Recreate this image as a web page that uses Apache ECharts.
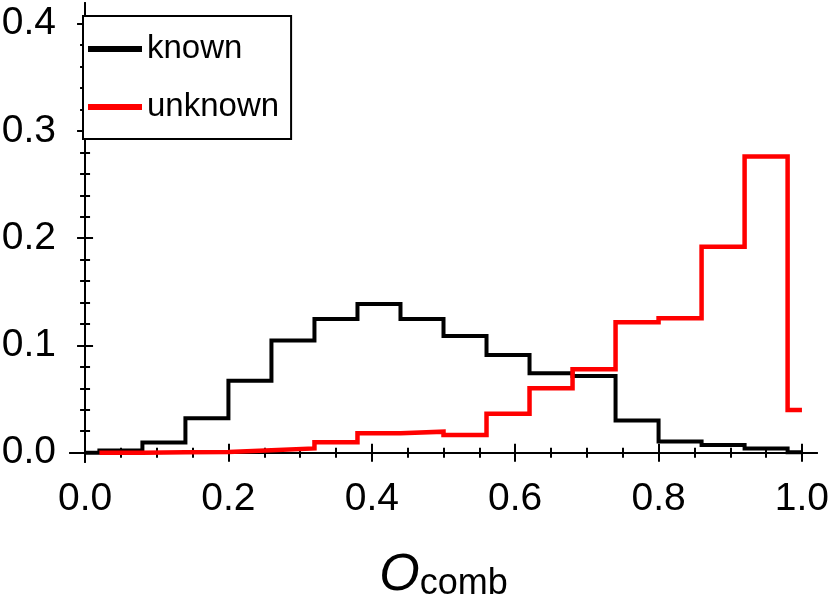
<!DOCTYPE html>
<html>
<head>
<meta charset="utf-8">
<script src="https://cdn.jsdelivr.net/npm/echarts@6/dist/echarts.min.js"></script>
<style>
html,body{margin:0;padding:0;background:#fff;}
#chart{width:830px;height:602px;}
</style>
</head>
<body>
<div id="chart"></div>
<script>
// ---- data ----
const binEdges = [0.00, 0.02, 0.08, 0.14, 0.20, 0.26, 0.32, 0.38, 0.44, 0.50, 0.56, 0.62, 0.68, 0.74, 0.80, 0.86, 0.92, 0.98, 1.00];
const knownValues = [0.000, 0.002, 0.0095, 0.032, 0.067, 0.1045, 0.1247, 0.1387, 0.1247, 0.1089, 0.0911, 0.074, 0.0715, 0.030, 0.0103, 0.0072, 0.004, 0.0004];
const unknownValues = [null, 0.000, 0.0003, 0.0006, 0.0022, 0.004, 0.0097, 0.018, 0.0196, 0.0165, 0.0362, 0.060, 0.0778, 0.1216, 0.1254, 0.192, 0.2762, 0.0398];
const seriesNames = ['known', 'unknown'];
const xMajorTicks = [0, 0.2, 0.4, 0.6, 0.8, 1.0];
const xMinorTicks = [0.05, 0.1, 0.15, 0.25, 0.3, 0.35, 0.45, 0.5, 0.55, 0.65, 0.7, 0.75, 0.85, 0.9, 0.95];
const yMajorTicks = [0, 0.1, 0.2, 0.3, 0.4];
const yMinorTicks = [0.02, 0.04, 0.06, 0.08, 0.12, 0.14, 0.16, 0.18, 0.22, 0.24, 0.26, 0.28, 0.32, 0.34, 0.36, 0.38];
const xLabel = 'O';
const xLabelSub = 'comb';

// build step outlines: each bin drawn from its left edge, final point at last right edge
function stepData(values) {
  const pts = [];
  let last = null;
  for (let i = 0; i < values.length; i++) {
    if (values[i] === null) continue;
    pts.push([binEdges[i], values[i]]);
    last = values[i];
  }
  pts.push([binEdges[binEdges.length - 1], last]);
  return pts;
}

const FONT = 'Liberation Sans';
const X_MIN = -0.021, X_MAX = 1.021, Y_MIN = -0.0087, Y_MAX = 0.4193;
const axisLineStyle = { show: true, lineStyle: { color: '#000', width: 2 } };

function xAxisDef(pos, ticks, len, withLabels, showLine, extra) {
  return Object.assign({
    type: 'value', position: pos, min: X_MIN, max: X_MAX,
    axisLine: showLine ? axisLineStyle : { show: false },
    axisTick: { show: true, inside: true, length: len, customValues: ticks, lineStyle: { color: '#000', width: 2 } },
    axisLabel: withLabels ? { show: true, customValues: ticks, fontSize: 39, fontFamily: FONT, color: '#000', margin: 18, formatter: v => v.toFixed(1) } : { show: false },
    splitLine: { show: false }, minorTick: { show: false }
  }, extra || {});
}
function yAxisDef(pos, ticks, len, withLabels, showLine) {
  return {
    type: 'value', position: pos, min: Y_MIN, max: Y_MAX,
    axisLine: showLine ? axisLineStyle : { show: false },
    axisTick: { show: true, inside: true, length: len, customValues: ticks, lineStyle: { color: '#000', width: 2 } },
    axisLabel: withLabels ? { show: true, customValues: ticks, fontSize: 39, fontFamily: FONT, color: '#000', margin: 14, formatter: v => v.toFixed(1) } : { show: false },
    splitLine: { show: false }, minorTick: { show: false }
  };
}

const chart = echarts.init(document.getElementById('chart'), null, { renderer: 'canvas' });
chart.setOption({
  animation: false,
  backgroundColor: '#fff',
  grid: { left: 70, right: 13, top: 3, bottom: 140, containLabel: false, outerBoundsMode: 'none' },
  xAxis: [
    xAxisDef('bottom', xMajorTicks, 9, true, true, {
      name: '{o|' + xLabel + '}{s|' + xLabelSub + '}',
      nameLocation: 'middle', nameGap: 88,
      nameTextStyle: {
        color: '#000',
        rich: {
          o: { fontSize: 52, fontStyle: 'italic', fontFamily: FONT, color: '#000', lineHeight: 52, verticalAlign: 'bottom' },
          s: { fontSize: 36, fontFamily: FONT, color: '#000', lineHeight: 36, verticalAlign: 'bottom' }
        }
      }
    }),
    xAxisDef('bottom', xMinorTicks, 5, false, false),
    xAxisDef('top', xMajorTicks, 9, false, true),
    xAxisDef('top', xMinorTicks, 5, false, false)
  ],
  yAxis: [
    yAxisDef('left', yMajorTicks, 8, true, true),
    yAxisDef('left', yMinorTicks, 5, false, false),
    yAxisDef('right', yMajorTicks, 8, false, true),
    yAxisDef('right', yMinorTicks, 5, false, false)
  ],
  legend: {
    orient: 'vertical', left: 83, top: 16,
    data: seriesNames.map(n => ({ name: n, itemStyle: { borderWidth: 0 } })),
    icon: 'rect', itemWidth: 54, itemHeight: 6, itemGap: 18,
    padding: [13, 12, 12, 5],
    borderColor: '#000', borderWidth: 2, backgroundColor: '#fff',
    textStyle: { fontSize: 33, fontFamily: FONT, color: '#000', lineHeight: 40 },
    selectedMode: false
  },
  series: [
    {
      name: seriesNames[0], type: 'line', step: 'end', data: stepData(knownValues),
      xAxisIndex: 0, yAxisIndex: 0, symbol: 'none', color: '#000',
      lineStyle: { color: '#000', width: 4, join: 'miter' }, z: 2
    },
    {
      name: seriesNames[1], type: 'line', step: 'end', data: stepData(unknownValues),
      xAxisIndex: 0, yAxisIndex: 0, symbol: 'none', color: '#ff0000',
      lineStyle: { color: '#ff0000', width: 4.5, join: 'miter' }, z: 3
    }
  ]
});
</script>
</body>
</html>
